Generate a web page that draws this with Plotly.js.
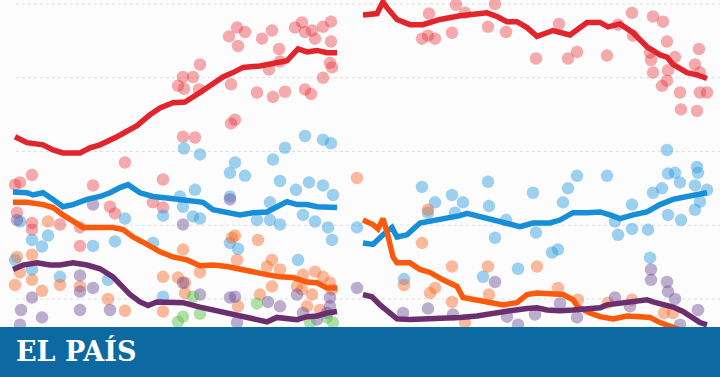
<!DOCTYPE html>
<html><head><meta charset="utf-8">
<script src="https://cdn.plot.ly/plotly-3.0.1.min.js"></script>
<style>html,body{margin:0;padding:0;background:#fcfcfc}#c{width:720px;height:377px}</style>
</head><body><div id="c"></div>
<script>
// ---- trend lines (x = week index, y = vote %) ----
const redLX = [15,27,43,53,63,80,90,100,117,127,137,150,160,173,185,200,213,223,233,243,260,273,287,298,307,317,327,337];
const redLY = [32.0,31.2,30.9,30.2,29.8,29.8,30.5,30.9,32.0,32.8,33.5,35.0,35.9,36.6,36.7,38.0,39.1,40.1,40.7,41.4,41.6,42.0,42.3,43.9,43.5,43.7,43.4,43.4];
const redRX = [363,377,383,387,397,410,423,440,460,487,497,507,517,527,537,553,570,587,600,608,620,633,647,660,667,673,687,697,707];
const redRY = [48.5,48.7,50.3,49.5,47.9,47.2,47.2,47.9,48.4,48.8,48.3,47.6,47.6,46.8,45.6,46.4,45.8,47.5,47.5,46.9,47.3,46.1,44.2,43.1,42.8,41.8,40.7,40.4,39.9];
const bluLX = [13,27,33,43,53,63,73,87,100,110,120,128,140,153,167,180,193,203,213,227,240,253,267,277,287,297,307,317,327,337];
const bluLY = [24.5,24.4,24.1,24.4,23.5,22.5,22.8,23.5,23.9,24.4,25.1,25.5,24.4,23.9,23.7,23.5,23.2,23.1,22.1,21.7,21.4,21.7,21.8,22.5,23.2,22.8,22.8,22.5,22.4,22.4];
const bluRX = [363,373,383,392,397,407,420,433,447,460,467,480,493,507,520,533,550,560,573,587,600,610,620,633,647,660,673,687,697,707];
const bluRY = [17.6,17.4,18.7,19.7,18.4,18.7,20.3,20.6,21.0,21.3,21.6,21.2,20.7,20.3,19.8,20.3,20.3,20.7,21.7,21.7,21.8,21.4,20.9,21.4,21.8,22.8,23.5,23.9,24.1,24.4];
const orgLX = [13,27,43,53,63,73,83,100,113,123,133,147,160,173,187,200,213,227,240,253,267,280,293,307,317,327,337];
const orgLY = [23.1,23.1,22.8,22.4,21.4,20.5,19.7,19.7,19.7,19.4,18.4,17.4,16.4,15.7,15.3,14.5,14.6,14.4,14.0,13.6,13.3,13.0,12.9,12.3,12.2,11.5,11.5];
const orgRX = [363,373,378,383,387,393,397,410,420,430,443,457,463,477,493,503,517,527,537,553,563,573,578,590,600,613,627,640,650,660,670,680,690,700,707];
const orgRY = [20.7,20.1,19.5,20.9,19.1,15.7,14.9,14.9,14.0,13.6,12.6,11.7,10.2,9.8,9.5,9.2,9.5,10.6,10.8,10.6,10.6,9.9,8.9,8.1,7.6,7.3,7.7,7.6,7.5,6.8,6.2,5.8,5.5,5.2,5.0];
const purLX = [13,23,37,50,60,73,87,100,113,123,130,140,148,157,170,183,200,217,233,247,260,267,277,287,297,307,317,327,337];
const purLY = [14.0,14.6,14.9,14.6,14.6,14.9,14.6,14.1,13.0,11.7,10.6,9.6,9.1,9.6,9.6,9.5,8.9,8.4,7.9,7.5,7.1,6.9,7.5,7.3,7.2,7.6,7.7,8.1,8.3];
const purRX = [363,372,380,390,397,410,427,443,460,477,493,510,527,537,547,560,573,587,600,607,620,633,647,653,660,673,683,690,700,707];
const purRY = [10.6,10.3,9.2,8.1,7.3,7.2,7.3,7.3,7.5,7.7,8.1,8.4,8.7,8.8,8.5,8.4,8.5,8.7,8.8,9.2,9.4,9.5,9.9,9.6,9.4,8.9,8.3,7.6,6.8,6.5];

// ---- individual polls ----
const redPX = [229,237,245,238,262,272,279,295,302,305,312,315,323,331,331,330,332,323,305,311,285,273,257,269,280,231,200,193,183,178,184,199,235,231,183,195,125,32,163,93,15,20,17,32,32,60,80,80,110,115,153,163,
  456,495,429,422,428,435,452,488,506,465,536,559,568,577,607,618,632,633,653,663,667,650,651,675,668,653,667,662,680,681,695,699,700,700,707,697];
const redPY = [45.6,46.8,46.2,44.3,45.3,46.4,43.9,46.8,47.5,46.2,46.4,45.3,46.9,47.6,44.9,42.0,41.4,40.0,38.4,37.8,38.1,37.4,38.0,41.1,42.2,39.1,41.8,40.1,40.1,38.9,38.5,38.4,34.3,33.8,32.0,31.9,28.5,26.8,26.2,25.4,25.5,25.8,21.7,20.3,19.4,20.1,19.7,17.2,22.5,21.6,23.1,22.4,
  49.9,50.0,48.7,45.3,45.7,45.3,46.1,46.9,46.2,48.8,42.6,47.3,42.6,43.5,43.0,47.2,48.8,45.7,48.3,47.6,44.9,43.4,42.4,42.8,41.0,40.7,39.6,38.9,38.0,35.7,41.8,43.9,40.7,38.0,38.0,35.5];
const bluPX = [184,200,305,323,331,285,273,235,230,245,280,296,309,323,333,195,180,183,193,200,230,257,270,280,303,315,328,332,230,238,298,270,32,42,48,15,32,60,93,115,125,153,163,20,108,163,
  357,422,435,452,463,488,489,495,455,506,533,536,404,483,518,428,552,558,563,568,577,607,615,618,632,632,648,650,653,662,668,675,680,697,698,695,668,681,695,700,707,667];
const bluPY = [30.4,29.6,32.1,31.6,31.1,30.5,28.9,28.5,27.1,26.7,26.0,24.8,25.8,25.4,24.1,24.8,23.9,22.5,21.2,20.9,23.9,20.7,20.7,20.1,21.4,20.5,19.7,18.0,17.6,16.8,15.3,23.1,18.0,17.1,18.6,15.3,14.0,13.0,17.2,17.8,20.9,17.6,21.3,20.5,12.6,10.3,
  19.7,25.2,23.1,24.1,23.1,25.9,22.6,18.3,21.7,20.7,24.4,19.0,12.7,13.0,14.1,21.7,16.3,16.7,23.1,25.0,26.7,26.7,20.5,18.7,19.5,22.8,19.4,15.6,24.4,25.0,27.0,27.1,25.8,27.9,27.1,25.4,21.4,20.7,22.1,23.2,24.8,30.2];
const orgPX = [17,32,20,32,15,42,60,80,108,125,163,163,48,183,232,235,258,237,200,178,185,185,272,267,280,272,260,303,315,323,330,297,312,307,320,238,332,302,
  357,428,422,452,488,404,430,435,452,489,465,537,558,578,632,608,664,673];
const orgPY = [15.7,16.0,13.6,12.6,11.9,11.1,11.9,11.7,10.0,8.4,13.0,8.3,20.5,16.7,18.3,18.6,18.0,15.3,13.6,12.9,12.2,10.8,15.3,14.4,14.0,11.7,10.6,13.3,13.7,13.0,12.2,11.7,10.6,9.0,8.5,9.0,11.3,11.3,
  26.4,22.1,17.6,14.4,14.4,11.9,10.8,11.5,9.6,10.6,6.8,14.4,11.5,9.9,9.9,9.5,8.1,8.1];
const purPX = [32,21,42,80,80,93,110,17,93,20,230,183,183,200,230,235,268,280,297,330,330,327,303,317,237,80,
  357,495,403,428,453,507,518,535,560,577,615,630,651,651,667,668,675,698,680];
const purPY = [10.2,8.5,7.5,13.2,8.5,11.5,8.5,20.7,22.8,6.5,23.5,20.1,12.2,10.6,10.2,10.3,9.6,9.0,10.6,10.2,9.0,8.1,8.1,7.2,6.8,11.0,
  11.5,12.3,8.1,8.7,7.9,7.6,6.5,7.9,9.4,7.5,10.2,9.0,14.0,12.6,12.3,11.0,10.0,8.5,6.5];
const grnPX = [193,200,183,257,310,333,327,178];
const grnPY = [10.3,8.0,7.6,9.4,6.8,6.8,7.5,6.9];

const gridVals = [10,20,30,40,50];
const logoText = 'EL PAÍS';

function bubbles(x, y, color){
  return {type:'scatter', mode:'markers', x:x, y:y, hoverinfo:'skip',
    marker:{size:12.5, color:color, line:{width:0}}};
}
function trend(x, y, color){
  return {type:'scatter', mode:'lines', x:x, y:y, hoverinfo:'skip',
    line:{color:color, width:5.5, shape:'linear'}};
}
const data = [
  bubbles(redPX, redPY, 'rgba(232,45,55,0.40)'),
  bubbles(bluPX, bluPY, 'rgba(40,155,222,0.45)'),
  bubbles(orgPX, orgPY, 'rgba(248,105,35,0.45)'),
  bubbles(purPX, purPY, 'rgba(110,75,150,0.45)'),
  bubbles(grnPX, grnPY, 'rgba(85,190,65,0.45)'),
  trend(bluLX, bluLY, '#168ed8'), trend(bluRX, bluRY, '#168ed8'),
  trend(orgLX, orgLY, '#fb5a0c'), trend(orgRX, orgRY, '#fb5a0c'),
  trend(purLX, purLY, '#6b2f6f'), trend(purRX, purRY, '#6b2f6f'),
  trend(redLX, redLY, '#e2242c'), trend(redRX, redRY, '#e2242c')
];
const shapes = gridVals.map(v => ({type:'line', xref:'paper', x0:0.022, x1:1, yref:'y', y0:v, y1:v,
  line:{color:'#dedede', width:1, dash:'dot'}, layer:'below'}));
shapes.push({type:'rect', xref:'paper', yref:'paper', x0:0, x1:1, y0:0, y1:0.1326,
  fillcolor:'#0c69a2', line:{width:0}, layer:'above'});
const layout = {
  width:720, height:377, margin:{l:0,r:0,t:0,b:0},
  paper_bgcolor:'#fcfcfc', plot_bgcolor:'#fcfcfc', showlegend:false,
  xaxis:{range:[0,720], visible:false, fixedrange:true},
  yaxis:{range:[-0.58,50.54], visible:false, fixedrange:true},
  shapes:shapes,
  annotations:[{text:logoText, xref:'paper', yref:'paper', x:0.019, y:0.068, xanchor:'left', yanchor:'middle',
    showarrow:false, font:{family:'DejaVu Serif', size:27, color:'#ffffff', weight:'bold'}}]
};
Plotly.newPlot('c', data, layout, {staticPlot:true, displayModeBar:false});
</script></body></html>
